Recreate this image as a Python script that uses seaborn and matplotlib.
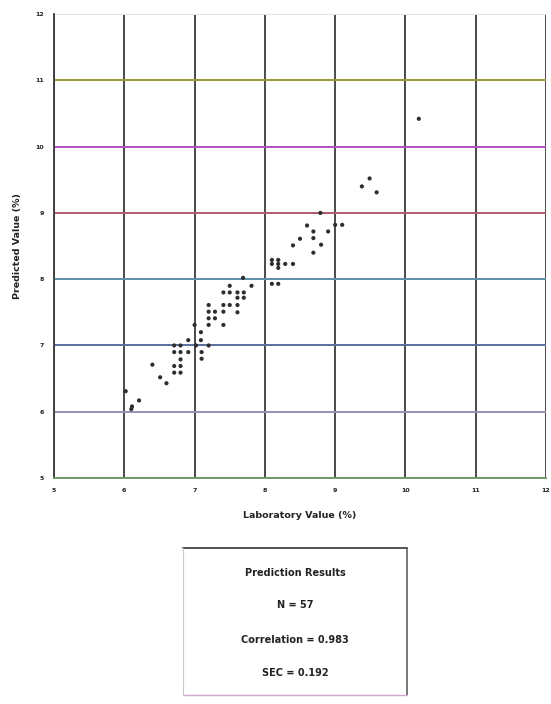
import pandas as pd
import matplotlib
matplotlib.use('Agg')
from matplotlib import pyplot as plt
from matplotlib.lines import Line2D
import seaborn as sns

# laboratory vs predicted values
lab = [6.02, 6.21, 6.11, 6.10, 6.40, 6.51, 6.60, 6.71, 6.80, 6.71,
       6.80, 6.80, 6.71, 6.80, 6.91, 7.10, 6.71, 6.80, 7.02, 7.20,
       7.10, 6.91, 7.09, 7.09, 7.00, 7.20, 7.41, 7.20, 7.29, 7.20,
       7.29, 7.41, 7.20, 7.41, 7.50, 7.61, 7.61, 7.61, 7.70, 7.41,
       7.50, 7.61, 7.70, 7.50, 7.81, 7.69, 8.10, 8.19, 8.10, 8.19,
       8.29, 8.40, 8.19, 8.10, 8.19, 8.40, 8.50, 8.60, 8.69, 8.69,
       8.69, 8.80, 8.90, 8.79, 9.00, 9.10, 9.38, 9.49, 9.59, 10.19]
pred = [6.31, 6.17, 6.08, 6.04, 6.71, 6.52, 6.43, 6.69, 6.69, 6.59,
        6.59, 6.79, 6.90, 6.90, 6.90, 6.90, 7.00, 7.00, 7.00, 7.00,
        6.80, 7.08, 7.08, 7.20, 7.31, 7.31, 7.31, 7.41, 7.41, 7.51,
        7.51, 7.51, 7.61, 7.61, 7.61, 7.61, 7.50, 7.72, 7.72, 7.80,
        7.80, 7.80, 7.80, 7.90, 7.90, 8.02, 8.29, 8.29, 8.23, 8.23,
        8.23, 8.23, 8.17, 7.93, 7.93, 8.51, 8.61, 8.81, 8.72, 8.62,
        8.40, 8.52, 8.72, 9.00, 8.82, 8.82, 9.40, 9.52, 9.31, 10.42]

ticks = [5, 6, 7, 8, 9, 10, 11, 12]
results = ['Prediction Results', 'N = 57', 'Correlation = 0.983', 'SEC = 0.192']

df = pd.DataFrame({'lab': lab, 'pred': pred})

sns.set_style('white')
plt.rcParams['font.family'] = ['DejaVu Sans']

fig = plt.figure(figsize=(5.51, 7.04), dpi=100)
ax = fig.add_axes([0.098, 0.321, 0.893, 0.659])

sns.scatterplot(data=df, x='lab', y='pred', ax=ax, s=9, color='#2e2e2e',
                edgecolor='none', zorder=3)

ax.set_xlim(5, 12)
ax.set_ylim(5, 12)
ax.set_xticks(ticks)
ax.set_yticks(ticks)
ax.set_xticklabels(ticks, fontsize=4.5, fontweight='bold', color='#222222')
ax.set_yticklabels(ticks, fontsize=4.5, fontweight='bold', color='#222222')
ax.tick_params(length=0, pad=7)

# scanned grid: dark verticals, tinted horizontals
ax.grid(True, axis='x', color='#3a3a3a', lw=1.3)
ax.grid(True, axis='y', lw=1.4)
line_cols = ['#6a9a6a', '#9a8fb0', '#5a6fa0', '#5b8fa8', '#b05a6a', '#b050c0', '#9a9a40', '#e4e4e4']
for gl, c in zip(ax.get_ygridlines(), line_cols):
    gl.set_color(c)
ax.set_axisbelow(True)

for side in ['top', 'right']:
    ax.spines[side].set_visible(False)
ax.spines['left'].set_color('#3a3a3a')
ax.spines['left'].set_linewidth(1.3)
ax.spines['bottom'].set_color('#6a9a6a')
ax.spines['bottom'].set_linewidth(1.4)

ax.set_xlabel('Laboratory Value (%)', fontsize=6.8, fontweight='bold', labelpad=13,
              color='#222222')
ax.set_ylabel('Predicted Value (%)', fontsize=6.8, fontweight='bold', labelpad=10,
              color='#222222')

# results box under the chart, edges as uneven as the scan
x0, x1 = 183 / 551, 407 / 551
y0, y1 = 1 - 695 / 704, 1 - 548 / 704
edges = [((x0, x1), (y1, y1), '#444444', 1.3),
         ((x1, x1), (y0, y1), '#555555', 1.1),
         ((x0, x0), (y0, y1), '#c8c8c8', 0.8),
         ((x0, x1), (y0, y0), '#d0a8d0', 1.0)]
for xs, ys, c, w in edges:
    fig.add_artist(Line2D(xs, ys, transform=fig.transFigure, color=c, lw=w))
for t, yp in zip(results, [573, 605, 640, 673]):
    fig.text(295 / 551, 1 - yp / 704, t, ha='center', va='center',
             fontsize=7, fontweight='bold', color='#222222')

fig.savefig('out.png', dpi=100)
